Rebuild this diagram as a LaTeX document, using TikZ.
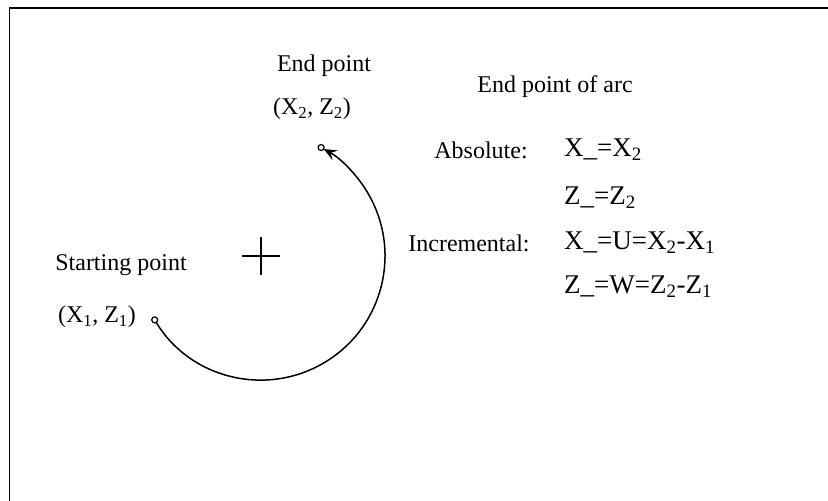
\documentclass[tikz,border=0pt]{standalone}
\usepackage{fontspec}
\setmainfont{Liberation Serif}
\usetikzlibrary{arrows.meta, positioning}

\newcommand{\idx}[1]{\textsubscript{#1}}

\tikzset{
  lbl/.style={font=\fontsize{24}{28}\selectfont, inner sep=0pt},
  formula/.style={font=\fontsize{27}{32}\selectfont, inner sep=0pt, anchor=west},
  endpt/.style={circle, draw, line width=1.2pt, inner sep=0pt, minimum size=6pt},
  arcline/.style={line width=1.5pt, -{Stealth[length=13pt, width=11pt, inset=5pt]}, shorten <=3pt, shorten >=3pt}
}

\begin{document}
\begin{tikzpicture}[x=1pt, y=1pt]
\useasboundingbox (0,0) rectangle (828,501);
% frame
\draw[line width=1.8pt] (9.5,0) -- (9.5,493) -- (828,493);

% centre of the arc
\coordinate (centre) at (261,245);
\draw[line width=1.5pt] ([xshift=-19pt]centre) -- ([xshift=19pt]centre);
\draw[line width=1.5pt] ([yshift=-19pt]centre) -- ([yshift=19pt]centre);

% start and end of the arc
\node[endpt] (start) at ([shift={(211:124)}]centre) {};
\node[endpt] (finish) at ([shift={(61:124)}]centre) {};
\draw[arcline] (start.center) arc[start angle=211, end angle=421, radius=124];

% point labels
\node[lbl] (endlbl) at (324,435) {End point};
\node[lbl] (endxy) at (312,392) {(X\idx{2}, Z\idx{2})};
\node[lbl] (startlbl) at (121,236) {Starting point};
\node[lbl] (startxy) at (97,184) {(X\idx{1}, Z\idx{1})};

% end point of arc
\node[lbl] (title) at (555,414) {End point of arc};
\node[lbl] (abs) at (481,351) {Absolute:};
\node[lbl] (inc) at (469,258) {Incremental:};
\node[formula] (absx) at (564,351) {X\_=X\idx{2}};
\node[formula] (absz) at (564,303) {Z\_=Z\idx{2}};
\node[formula] (incx) at (564,258) {X\_=U=X\idx{2}-X\idx{1}};
\node[formula] (incz) at (564,214) {Z\_=W=Z\idx{2}-Z\idx{1}};
\end{tikzpicture}
\end{document}
